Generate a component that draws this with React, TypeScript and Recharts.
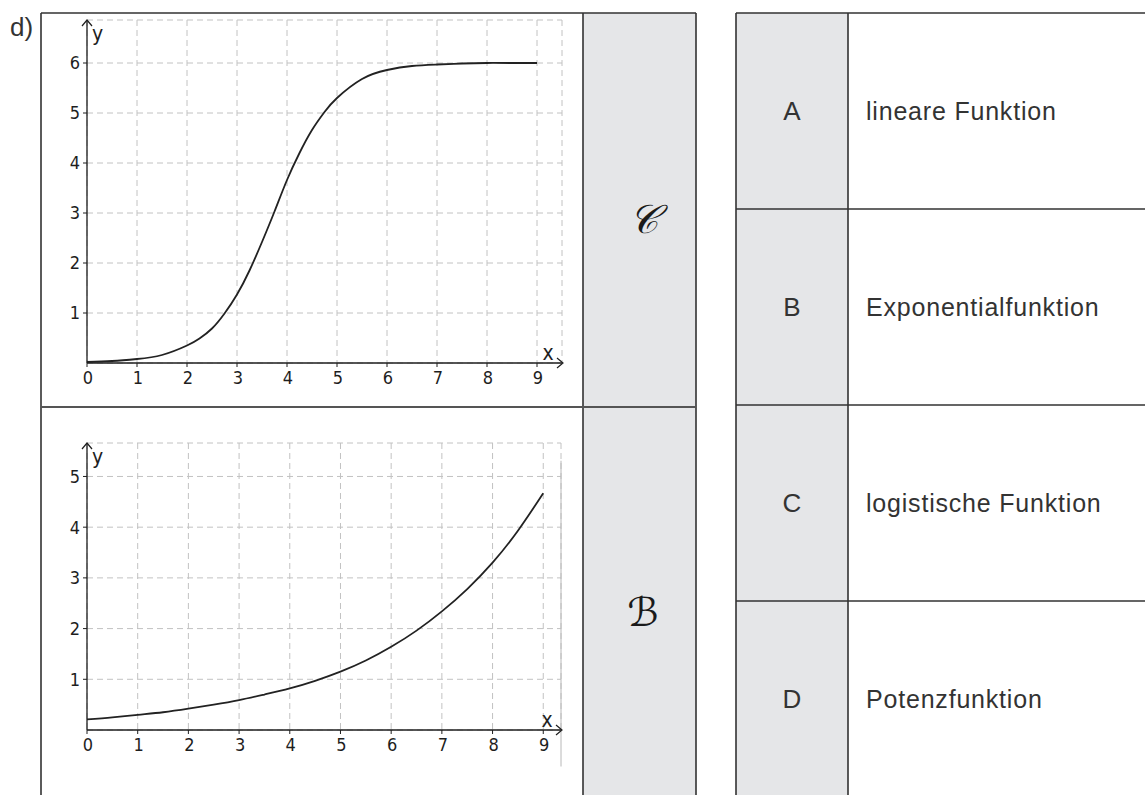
import React from 'react';
import { LineChart, Line, XAxis, YAxis, CartesianGrid, ReferenceLine } from 'recharts';

// ---- data ----
const logisticX = [0, 0.5, 1, 1.5, 2, 2.25, 2.5, 2.75, 3, 3.25, 3.5, 3.75, 4, 4.25, 4.5, 4.75, 5, 5.5, 6, 6.5, 7, 7.5, 8, 8.5, 9];
const logisticY = [0.02, 0.04, 0.08, 0.16, 0.35, 0.49, 0.69, 0.99, 1.37, 1.85, 2.42, 3.03, 3.66, 4.2, 4.66, 5.02, 5.3, 5.68, 5.86, 5.94, 5.97, 5.99, 6.0, 6.0, 6.0];
const exponentialX = [0, 0.5, 1, 1.5, 2, 2.5, 3, 3.5, 4, 4.5, 5, 5.5, 6, 6.5, 7, 7.5, 8, 8.5, 9];
const exponentialY = [0.21, 0.25, 0.3, 0.35, 0.42, 0.5, 0.59, 0.7, 0.82, 0.97, 1.15, 1.37, 1.64, 1.96, 2.34, 2.78, 3.3, 3.93, 4.67];
const xTicks = [0, 1, 2, 3, 4, 5, 6, 7, 8, 9];
const logisticYTicks = [1, 2, 3, 4, 5, 6];
const exponentialYTicks = [1, 2, 3, 4, 5];
const rowLetters = ['A', 'B', 'C', 'D'];
const rowLabels = ['lineare Funktion', 'Exponentialfunktion', 'logistische Funktion', 'Potenzfunktion'];
const answerLetters = ['\u{1D49E}', '\u212C'];
const partLabel = 'd)';

const logisticData = logisticX.map((x, i) => ({ x, y: logisticY[i] }));
const exponentialData = exponentialX.map((x, i) => ({ x, y: exponentialY[i] }));

const TICK_FONT = "'DejaVu Sans Condensed', 'Liberation Sans Narrow', 'DejaVu Sans', sans-serif";
const TEXT_FONT = "'Liberation Sans', Arial, sans-serif";
const INK = '#1e1e1e';
const TICK_SIZE = 18;

const YArrow = (props: any) => {
  const vb = props.viewBox || {};
  const x = vb.x + vb.width;
  const y = vb.y;
  return (
    <g>
      <path d={`M${x - 5},${y + 6} L${x},${y} L${x + 5},${y + 6}`} fill="none" stroke={INK} strokeWidth={1.2} />
      <text x={x + 5} y={y + 21} fontSize={21} fontFamily={TICK_FONT} fill={INK}>y</text>
    </g>
  );
};

const XArrow = (props: any) => {
  const vb = props.viewBox || {};
  const x = vb.x + vb.width + 1;
  const y = vb.y;
  return (
    <g>
      <path d={`M${x - 6},${y - 5} L${x},${y} L${x - 6},${y + 5}`} fill="none" stroke={INK} strokeWidth={1.2} />
      <text x={x - 15} y={y - 3} fontSize={21} fontFamily={TICK_FONT} fill={INK} textAnchor="middle">x</text>
    </g>
  );
};

const XTick = (props: any) => {
  const { x, y, payload } = props;
  return (
    <text x={x + 1} y={y} dy="0.72em" textAnchor="middle" fontSize={TICK_SIZE} fontFamily={TICK_FONT} fill={INK}>
      {payload.value}
    </text>
  );
};

const YTick = (props: any) => {
  const { x, y, payload } = props;
  return (
    <text x={x} y={y} dy="0.36em" textAnchor="end" fontSize={TICK_SIZE} fontFamily={TICK_FONT} fill={INK}>
      {payload.value}
    </text>
  );
};

function FunctionChart(props: {
  data: { x: number; y: number }[];
  width: number;
  height: number;
  margin: { top: number; right: number; left: number; bottom: number };
  xMax: number;
  yMax: number;
  yTicks: number[];
  frame?: boolean;
}) {
  const { data, width, height, margin, xMax, yMax, yTicks, frame } = props;
  return (
    <LineChart width={width} height={height} data={data} margin={margin}>
      <CartesianGrid stroke="#c2c2c2" strokeDasharray="6 4" strokeWidth={1} />
      <XAxis
        type="number"
        dataKey="x"
        domain={[0, xMax]}
        allowDataOverflow
        ticks={xTicks}
        interval={0}
        height={30}
        tick={<XTick />}
        tickSize={4}
        tickMargin={4}
        axisLine={{ stroke: INK, strokeWidth: 1.3 }}
        tickLine={{ stroke: INK, strokeWidth: 1 }}
        label={{ content: XArrow }}
      />
      <YAxis
        type="number"
        domain={[0, yMax]}
        allowDataOverflow
        ticks={yTicks}
        interval={0}
        width={36}
        tick={<YTick />}
        tickSize={4}
        tickMargin={3}
        axisLine={{ stroke: INK, strokeWidth: 1.3 }}
        tickLine={{ stroke: INK, strokeWidth: 1 }}
        label={{ content: YArrow }}
      />
      {frame ? (
        <ReferenceLine
          segment={[{ x: xMax, y: -0.72 }, { x: xMax, y: yMax - 0.35 }]}
          stroke="#b8b8b8"
          strokeWidth={1}
          ifOverflow="visible"
        />
      ) : null}
      <Line
        type="natural"
        dataKey="y"
        stroke="#222"
        strokeWidth={1.8}
        dot={false}
        isAnimationActive={false}
      />
    </LineChart>
  );
}

const rowCenters = [111, 307, 503, 699];
const answerCenters = [219, 612];

export default function App() {
  return (
    <div style={{ position: 'absolute', left: 0, top: 0, width: 1145, height: 795, background: '#fff', overflow: 'hidden' }}>
      <svg width={1145} height={795} style={{ position: 'absolute', left: 0, top: 0 }}>
        <rect x={583} y={13} width={113} height={782} fill="#e5e6e8" />
        <rect x={736} y={13} width={112} height={782} fill="#e5e6e8" />
        <g stroke="#333" strokeWidth={1.6} fill="none">
          <path d="M41,13 H696 M41,13 V795 M583,13 V795 M696,13 V795" />
          <path d="M736,13 H1145 M736,13 V795 M848,13 V795" />
          <path d="M736,209 H1145 M736,405 H1145 M736,601 H1145" />
        </g>
        <path d="M41,407 H696" stroke="#555" strokeWidth={2.2} />
        <text x={10} y={36} fontSize={26} fontFamily={TEXT_FONT} fill="#333">{partLabel}</text>
        {rowLetters.map((l, i) => (
          <text key={l} x={792} y={rowCenters[i]} fontSize={26} fontFamily={TEXT_FONT} fill="#333" textAnchor="middle" dominantBaseline="central">{l}</text>
        ))}
        {rowLabels.map((l, i) => (
          <text key={l} x={866} y={rowCenters[i]} fontSize={25} fontFamily={TEXT_FONT} fill="#333" letterSpacing={0.8} dominantBaseline="central">{l}</text>
        ))}
        {answerLetters.map((l, i) => (
          <text key={i} x={643} y={answerCenters[i]} fontSize={40} fontFamily="'DejaVu Serif', 'DejaVu Sans', serif" fontStyle="italic" fill="#1a1a1a" textAnchor="middle" dominantBaseline="central">{l}</text>
        ))}
      </svg>
      <div style={{ position: 'absolute', left: 41, top: 13 }}>
        <FunctionChart
          data={logisticData}
          width={531}
          height={394}
          margin={{ top: 7, right: 10, left: 10, bottom: 14 }}
          xMax={9.5}
          yMax={6.86}
          yTicks={logisticYTicks}
        />
      </div>
      <div style={{ position: 'absolute', left: 41, top: 407 }}>
        <FunctionChart
          data={exponentialData}
          width={530}
          height={388}
          margin={{ top: 36, right: 10, left: 10, bottom: 35 }}
          xMax={9.35}
          yMax={5.66}
          yTicks={exponentialYTicks}
          frame
        />
      </div>
    </div>
  );
}
